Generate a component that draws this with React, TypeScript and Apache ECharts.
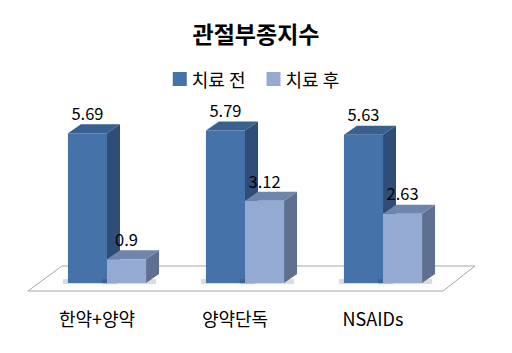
import React, { useEffect, useRef } from "react";
import * as echarts from "echarts";

const categories = ["한약+양약", "양약단독", "NSAIDs"];
const beforeValues = [5.69, 5.79, 5.63];
const afterValues = [0.9, 3.12, 2.63];
const seriesNames = ["치료 전", "치료 후"];

const FONT = "'Noto Sans CJK KR', 'Noto Sans', sans-serif";
const palettes = [
  { front: "#4572a8", top: "#39608f", side: "#2f4d76", legend: "#4572a8" },
  { front: "#94aad3", top: "#6f85ab", side: "#5e6f8f", legend: "#94aad3" },
];

function makeBarRender(s: number) {
  return (params: any, api: any) => {
    const i = api.value(0);
    const v = api.value(1);
    const base = api.coord([i, 0]);
    const topPt = api.coord([i, v]);
    const band = api.size([1, 0])[0];
    const barW = band * 0.283;
    const dx = 13;
    const dy = -9;
    const cx = base[0];
    const left = s === 0 ? cx - barW : cx;
    const right = left + barW;
    const y0 = base[1];
    const yt = topPt[1];
    const p = palettes[s];
    const children: any[] = [
      {
        type: "rect",
        shape: { x: left - 5, y: y0 - 4, width: barW + dx + 2, height: 5 },
        style: {
          fill: "rgba(0,0,0,0.12)",
          shadowBlur: 6,
          shadowColor: "rgba(0,0,0,0.3)",
        },
        silent: true,
      },
      {
        type: "polygon",
        shape: {
          points: [
            [right, yt],
            [right + dx, yt + dy],
            [right + dx, y0 + dy],
            [right, y0],
          ],
        },
        style: { fill: p.side },
      },
      {
        type: "polygon",
        shape: {
          points: [
            [left, yt],
            [left + dx, yt + dy],
            [right + dx, yt + dy],
            [right, yt],
          ],
        },
        style: { fill: p.top },
      },
      {
        type: "rect",
        shape: { x: left, y: yt, width: barW, height: y0 - yt },
        style: { fill: p.front },
      },
      {
        type: "text",
        x: left + barW / 2,
        y: yt + dy - 3,
        style: {
          text: String(v),
          fill: "#000",
          font: `16.5px ${FONT}`,
          align: "center",
          verticalAlign: "bottom",
        },
      },
    ];
    return { type: "group", children };
  };
}

function floorRender(params: any, api: any) {
  const cs = params.coordSys;
  const y0 = cs.y + cs.height;
  const l = cs.x;
  const r = cs.x + cs.width;
  return {
    type: "polygon",
    shape: {
      points: [
        [l - 10, y0 + 8],
        [r - 9, y0 + 8],
        [r + 23, y0 - 17],
        [l + 24, y0 - 17],
      ],
    },
    style: { fill: "#ffffff", stroke: "#a6a6a6", lineWidth: 1 },
    silent: true,
  };
}

export default function App() {
  const ref = useRef<HTMLDivElement>(null);
  useEffect(() => {
    if (!ref.current) return;
    const chart = echarts.init(ref.current, undefined, { renderer: "svg" });
    chart.setOption({
      animation: false,
      backgroundColor: "#ffffff",
      color: [palettes[0].legend, palettes[1].legend],
      title: {
        text: "관절부종지수",
        left: "center",
        top: 16,
        textStyle: { fontFamily: FONT, fontSize: 23, fontWeight: "bold", color: "#000" },
      },
      legend: {
        top: 65,
        left: "center",
        itemWidth: 14,
        itemHeight: 14,
        itemGap: 21,
        icon: "rect",
        data: seriesNames,
        textStyle: { fontFamily: FONT, fontSize: 18, color: "#000" },
      },
      grid: { left: 38, right: 60, top: 125, bottom: 70 },
      xAxis: {
        type: "category",
        data: categories,
        axisLine: { show: false },
        axisTick: { show: false },
        axisLabel: {
          fontFamily: FONT,
          fontSize: 18,
          color: "#000",
          margin: 26,
          padding: [0, 20, 0, 0],
        },
      },
      yAxis: { type: "value", min: 0, max: 6, show: false, splitLine: { show: false } },
      series: [
        {
          type: "custom",
          name: "floor",
          data: [[0, 0]],
          renderItem: floorRender,
          z: 1,
          silent: true,
        },
        {
          type: "custom",
          name: seriesNames[0],
          data: beforeValues.map((v, i) => [i, v]),
          renderItem: makeBarRender(0),
          itemStyle: { color: palettes[0].legend },
          z: 2,
        },
        {
          type: "custom",
          name: seriesNames[1],
          data: afterValues.map((v, i) => [i, v]),
          renderItem: makeBarRender(1),
          itemStyle: { color: palettes[1].legend },
          z: 3,
        },
      ],
    });
    return () => chart.dispose();
  }, []);
  return (
    <div
      ref={ref}
      style={{ position: "fixed", left: 0, top: 0, width: 512, height: 353 }}
    />
  );
}
